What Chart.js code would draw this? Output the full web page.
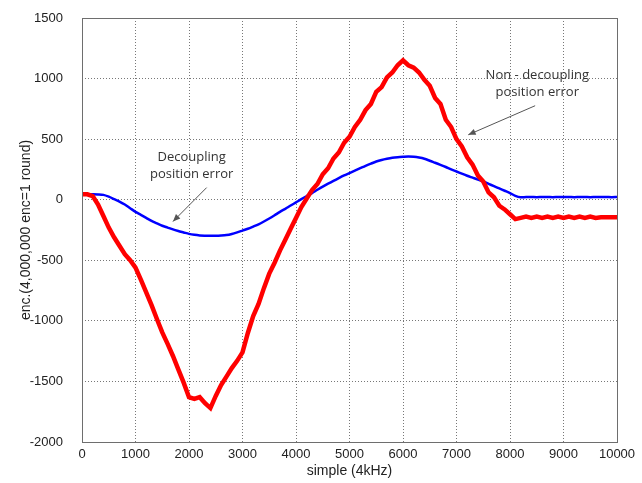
<!DOCTYPE html>
<html>
<head>
<meta charset="utf-8">
<script src="https://cdn.jsdelivr.net/npm/chart.js@4"></script>
<style>
  body { margin: 0; background: #fff; }
  #wrap { width: 642px; height: 483px; }
</style>
</head>
<body>
<div id="wrap"><canvas id="errChart" width="642" height="483"></canvas></div>
<script>
// samples 0..10000 every 100
let samples = [];
for (let i = 0; i <= 100; i++) samples.push(i * 100);

let decouplingError = [
  45, 45, 45, 44, 40, 25, 5, -15, -40, -70,
  -100, -125, -150, -175, -195, -215, -230, -245, -258, -270,
  -282, -290, -295, -297, -298, -298, -296, -292, -283, -270,
  -255, -240, -222, -203, -180, -155, -128, -100, -75, -48,
  -22, 5, 30, 55, 82, 108, 132, 155, 178, 200,
  220, 240, 260, 280, 298, 315, 328, 338, 346, 351,
  354, 356, 354, 348, 338, 322, 305, 288, 270, 250,
  233, 215, 198, 182, 166, 151, 131, 112, 93, 74,
  55, 32, 20, 22, 22, 21, 22, 22, 21, 22,
  22, 22, 21, 22, 22, 21, 22, 22, 22, 21,
  22
];

let nonDecouplingError = [
  45, 45, 30, -40, -135, -230, -310, -380, -450, -500,
  -560, -660, -765, -870, -985, -1095, -1190, -1290, -1400, -1510,
  -1630, -1645, -1630, -1680, -1720, -1620, -1530, -1460, -1390, -1330,
  -1260, -1100, -960, -860, -730, -610, -520, -420, -330, -240,
  -150, -60, 10, 80, 130, 210, 260, 340, 390, 470,
  520, 600, 660, 740, 790, 890, 930, 1010, 1050, 1110,
  1150, 1110, 1090, 1050, 990, 940, 840, 790, 660, 600,
  500, 440, 350, 290, 200, 150, 60, 20, -50, -80,
  -120, -160, -150, -140, -150, -140, -150, -140, -150, -140,
  -150, -140, -150, -140, -150, -140, -150, -145, -145, -145,
  -145
];

let xTicks = [0, 1000, 2000, 3000, 4000, 5000, 6000, 7000, 8000, 9000, 10000];
let yTicks = [-2000, -1500, -1000, -500, 0, 500, 1000, 1500];

// annotation text and arrows in data coordinates
let notes = [
  { lines: ["Decoupling", "position error"], x: 2050, y: 350, from: [2330, 100], to: [1700, -180] },
  { lines: ["Non - decoupling", "position error"], x: 8510, y: 1023, from: [8470, 776], to: [7220, 536] }
];

function toPoints(values) {
  return samples.map((s, i) => ({ x: s, y: values[i] }));
}

let framePlugin = {
  id: "frame",
  afterDatasetsDraw(chart) {
    let ctx = chart.ctx;
    let a = chart.chartArea;
    ctx.save();
    ctx.strokeStyle = "#6e6e6e";
    ctx.lineWidth = 1;
    ctx.strokeRect(a.left + 0.5, a.top + 0.5, a.right - a.left, a.bottom - a.top);
    ctx.restore();

    let xs = chart.scales.x;
    let ys = chart.scales.y;
    ctx.save();
    ctx.fillStyle = "#333";
    ctx.strokeStyle = "#555";
    ctx.font = "13px 'Open Sans', Calibri, sans-serif";
    ctx.textAlign = "center";
    ctx.textBaseline = "middle";
    notes.forEach(n => {
      let tx = xs.getPixelForValue(n.x);
      let ty = ys.getPixelForValue(n.y);
      n.lines.forEach((l, k) => ctx.fillText(l, tx, ty + k * 17));
      let x1 = xs.getPixelForValue(n.from[0]), y1 = ys.getPixelForValue(n.from[1]);
      let x2 = xs.getPixelForValue(n.to[0]), y2 = ys.getPixelForValue(n.to[1]);
      ctx.lineWidth = 1;
      ctx.beginPath();
      ctx.moveTo(x1, y1);
      ctx.lineTo(x2, y2);
      ctx.stroke();
      let ang = Math.atan2(y2 - y1, x2 - x1);
      ctx.beginPath();
      ctx.moveTo(x2, y2);
      ctx.lineTo(x2 - 8 * Math.cos(ang - 0.4), y2 - 8 * Math.sin(ang - 0.4));
      ctx.lineTo(x2 - 8 * Math.cos(ang + 0.4), y2 - 8 * Math.sin(ang + 0.4));
      ctx.closePath();
      ctx.fillStyle = "#555";
      ctx.fill();
      ctx.fillStyle = "#333";
    });
    ctx.restore();
  }
};

let ctx = document.getElementById("errChart").getContext("2d");
let errChart = new Chart(ctx, {
  type: "line",
  data: {
    datasets: [
      {
        label: "Non - decoupling position error",
        data: toPoints(nonDecouplingError),
        borderColor: "#ff0000",
        borderWidth: 4.5,
        pointRadius: 0,
        tension: 0
      },
      {
        label: "Decoupling position error",
        data: toPoints(decouplingError),
        borderColor: "#0000ff",
        borderWidth: 2.5,
        pointRadius: 0,
        tension: 0.3
      }
    ]
  },
  options: {
    responsive: false,
    animation: false,
    layout: { padding: { top: 18, right: 25, left: 0, bottom: 0 } },
    plugins: {
      legend: { display: false },
      tooltip: { enabled: false }
    },
    scales: {
      x: {
        type: "linear",
        min: 0,
        max: 10000,
        afterBuildTicks: s => { s.ticks = xTicks.map(v => ({ value: v })); },
        afterFit: s => { s.height = 41; },
        ticks: { color: "#222", font: { family: "Liberation Sans, Arial", size: 13 }, padding: 5, maxRotation: 0, callback: v => String(v) },
        grid: { color: "#777", drawTicks: false },
        border: { display: false, dash: [1, 2] },
        title: { display: true, text: "simple (4kHz)", color: "#222", font: { family: "Liberation Sans, Arial", size: 14 }, padding: { top: 0, bottom: 3 } }
      },
      y: {
        min: -2000,
        max: 1500,
        afterBuildTicks: s => { s.ticks = yTicks.map(v => ({ value: v })); },
        afterFit: s => { s.width = 82; s.paddingTop = 8; s.paddingBottom = 8; },
        ticks: { color: "#222", font: { family: "Liberation Sans, Arial", size: 13 }, padding: 19, callback: v => String(v) },
        grid: { color: "#777", drawTicks: false },
        border: { display: false, dash: [1, 2] },
        title: { display: true, text: "enc.(4,000,000 enc=1 round)", color: "#222", font: { family: "Liberation Sans, Arial", size: 14 }, padding: { top: 18, bottom: 0 } }
      }
    }
  },
  plugins: [framePlugin]
});
</script>
</body>
</html>
